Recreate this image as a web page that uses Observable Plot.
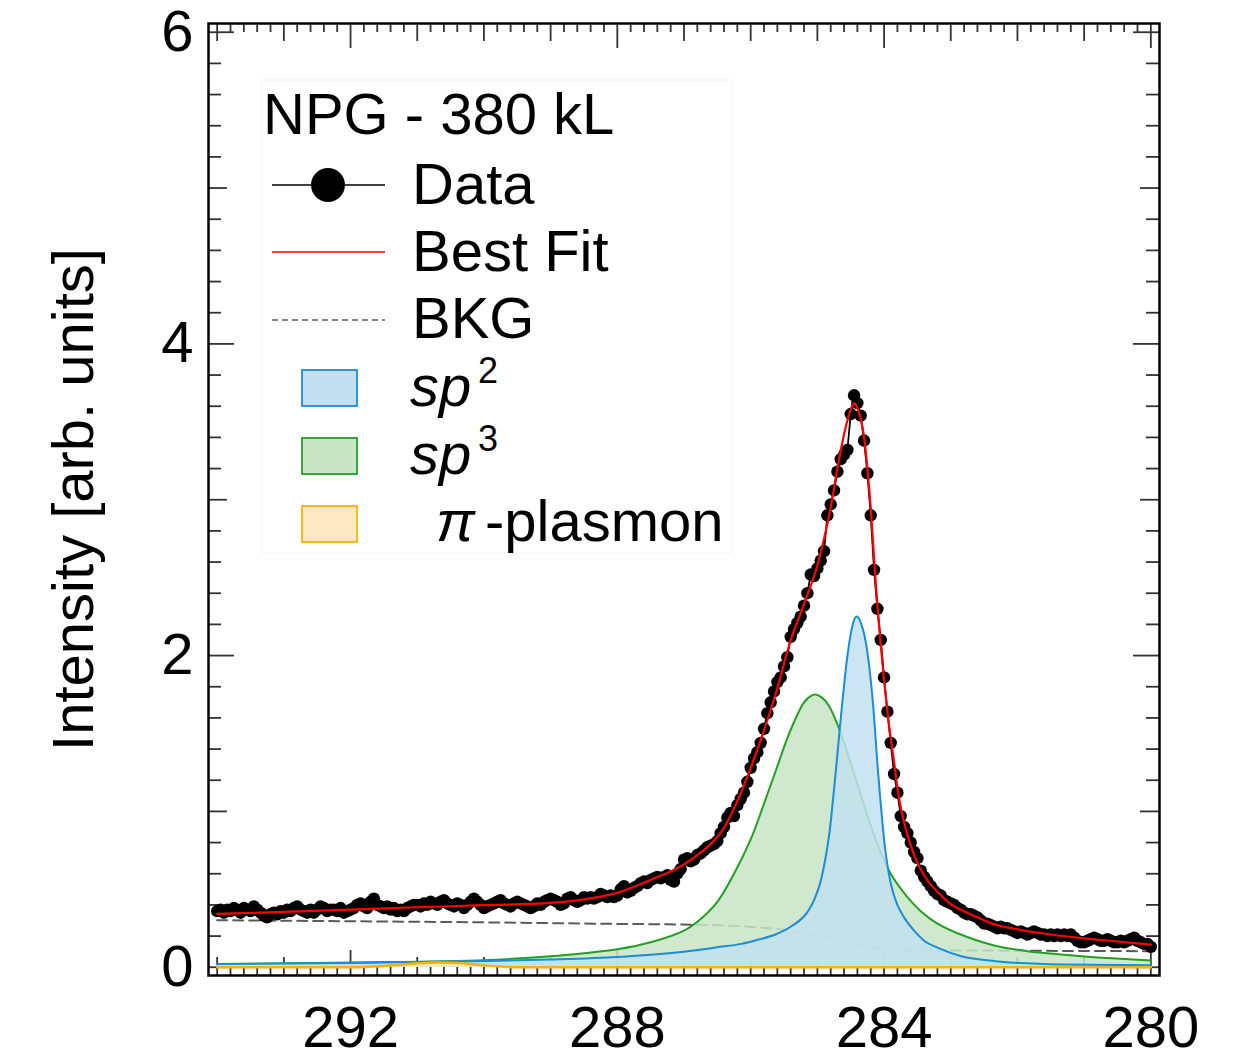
<!DOCTYPE html>
<html>
<head>
<meta charset="utf-8">
<script src="https://cdn.jsdelivr.net/npm/d3@7"></script>
<script src="https://cdn.jsdelivr.net/npm/@observablehq/plot@0.6"></script>
<style>
  html, body { margin: 0; padding: 0; background: white; }
</style>
</head>
<body>
<div id="chart"></div>
<script>
// ---------- data ----------
const FONT = "'Liberation Sans', Arial, Helvetica, sans-serif";

// measured spectrum: binding energy grid 294.00 -> 280.00 eV, step 0.05 eV
const dataStart = 294.0;
const dataStep = 0.05;
const dataIntensity = [
  0.36,0.37,0.35,0.37,0.36,0.38,0.37,0.35,0.38,0.37,
  0.36,0.39,0.37,0.35,0.33,0.32,0.34,0.35,0.34,0.36,
  0.35,0.37,0.36,0.38,0.39,0.37,0.36,0.35,0.37,0.35,
  0.37,0.39,0.38,0.36,0.37,0.37,0.36,0.38,0.35,0.36,
  0.37,0.38,0.40,0.41,0.39,0.38,0.42,0.44,0.40,0.39,
  0.38,0.39,0.37,0.38,0.36,0.37,0.36,0.38,0.39,0.40,
  0.40,0.39,0.41,0.40,0.42,0.41,0.40,0.42,0.43,0.41,
  0.40,0.39,0.41,0.40,0.38,0.40,0.42,0.44,0.42,0.40,
  0.38,0.39,0.40,0.41,0.42,0.43,0.41,0.40,0.39,0.41,
  0.42,0.41,0.40,0.39,0.38,0.39,0.41,0.40,0.42,0.43,
  0.44,0.43,0.42,0.40,0.41,0.44,0.45,0.43,0.42,0.43,
  0.45,0.44,0.45,0.44,0.45,0.47,0.46,0.45,0.46,0.45,
  0.46,0.50,0.52,0.48,0.49,0.51,0.52,0.54,0.55,0.54,
  0.56,0.57,0.58,0.57,0.58,0.59,0.56,0.55,0.60,0.63,
  0.69,0.70,0.68,0.69,0.72,0.73,0.75,0.77,0.78,0.79,
  0.81,0.86,0.90,0.96,0.99,0.97,1.04,1.08,1.12,1.19,
  1.28,1.34,1.38,1.44,1.53,1.63,1.70,1.77,1.83,1.86,
  1.93,1.99,2.12,2.17,2.21,2.25,2.32,2.40,2.52,2.51,
  2.56,2.61,2.67,2.90,2.97,3.06,3.18,3.26,3.29,3.32,
  3.55,3.67,3.62,3.54,3.38,3.17,2.90,2.55,2.30,2.10,
  1.86,1.64,1.44,1.24,1.12,0.97,0.90,0.86,0.80,0.74,
  0.70,0.62,0.58,0.55,0.52,0.49,0.47,0.46,0.43,0.42,
  0.41,0.40,0.38,0.37,0.35,0.34,0.34,0.33,0.32,0.30,
  0.28,0.28,0.27,0.26,0.25,0.26,0.25,0.25,0.24,0.23,
  0.22,0.23,0.22,0.21,0.22,0.23,0.22,0.21,0.21,0.20,
  0.21,0.20,0.21,0.20,0.21,0.20,0.21,0.19,0.17,0.16,
  0.16,0.17,0.18,0.19,0.18,0.17,0.17,0.18,0.17,0.16,
  0.16,0.17,0.16,0.17,0.18,0.19,0.17,0.16,0.15,0.15,
  0.13
];

// best fit
const fitEnergy = [294.0,293.0,292.0,291.0,290.0,289.0,288.5,288.0,287.5,287.0,286.8,286.6,286.4,286.2,286.0,285.8,285.6,285.4,285.2,285.0,284.9,284.8,284.7,284.6,284.5,284.45,284.4,284.35,284.3,284.25,284.2,284.15,284.1,284.05,284.0,283.95,283.9,283.85,283.8,283.7,283.6,283.5,283.4,283.3,283.2,283.0,282.8,282.6,282.4,282.2,282.0,281.5,281.0,280.5,280.0];
const fitIntensity = [0.342,0.355,0.370,0.385,0.398,0.413,0.435,0.477,0.56,0.66,0.72,0.79,0.895,1.066,1.28,1.52,1.79,2.10,2.33,2.58,2.75,2.95,3.20,3.42,3.58,3.62,3.59,3.52,3.40,3.20,2.95,2.62,2.32,2.07,1.84,1.64,1.47,1.32,1.15,0.93,0.78,0.67,0.59,0.53,0.485,0.405,0.36,0.32,0.283,0.26,0.243,0.21,0.185,0.165,0.145];

// sp2 component
const sp2Energy = [294.0,292.0,290.0,289.0,288.0,287.5,287.0,286.5,286.14,285.88,285.63,285.39,285.14,285.04,284.94,284.87,284.81,284.76,284.71,284.64,284.54,284.47,284.41,284.34,284.26,284.16,284.09,284.04,283.99,283.94,283.89,283.8,283.7,283.54,283.4,283.19,282.84,282.33,281.33,280.0];
const sp2Intensity = [0.02,0.028,0.04,0.05,0.066,0.08,0.10,0.128,0.15,0.178,0.21,0.263,0.36,0.44,0.57,0.72,0.895,1.10,1.32,1.64,2.03,2.20,2.25,2.20,2.05,1.66,1.25,1.00,0.78,0.63,0.52,0.40,0.32,0.23,0.17,0.124,0.07,0.039,0.017,0.013];

// sp3 component
const sp3Energy = [294.0,292.0,290.0,289.0,288.5,288.0,287.5,287.0,286.75,286.5,286.25,286.0,285.8,285.6,285.45,285.3,285.2,285.1,285.03,284.93,284.83,284.7,284.5,284.3,284.1,283.9,283.65,283.45,283.2,282.85,282.35,281.85,281.3,280.8,280.0];
const sp3Intensity = [0.02,0.03,0.045,0.07,0.09,0.115,0.16,0.235,0.31,0.42,0.60,0.82,1.05,1.29,1.47,1.62,1.70,1.74,1.75,1.73,1.68,1.56,1.31,1.04,0.79,0.60,0.45,0.36,0.28,0.21,0.14,0.103,0.08,0.063,0.043];

// pi-plasmon component
const plasmonEnergy = [294.0,292.0,291.5,291.0,290.7,290.3,290.0,289.5,280.0];
const plasmonIntensity = [0.0,0.0,0.008,0.025,0.03,0.025,0.012,0.0,0.0];

// background
const bkgEnergy = [294.0,292.0,290.0,288.0,287.0,286.14,285.54,285.24,284.89,284.6,284.39,284.15,283.99,283.5,282.0,280.0];
const bkgIntensity = [0.302,0.295,0.288,0.278,0.274,0.263,0.242,0.225,0.20,0.17,0.146,0.125,0.114,0.11,0.106,0.103];

// axes
const xTickLabels = [292, 288, 284, 280];
const yTickLabels = [0, 2, 4, 6];
const yLabel = "Intensity [arb. units]";
const legendTitle = "NPG - 380 kL";
const legendLabels = ["Data", "Best Fit", "BKG"];

// ---------- build tables ----------
const zip = (xs, ys) => xs.map((e, i) => ({e, v: ys[i]}));
const data = dataIntensity.map((v, i) => ({e: +(dataStart - i * dataStep).toFixed(2), v}));
const fit = zip(fitEnergy, fitIntensity);
const sp2 = zip(sp2Energy, sp2Intensity);
const sp3 = zip(sp3Energy, sp3Intensity);
const plasmon = zip(plasmonEnergy, plasmonIntensity);
const bkg = zip(bkgEnergy, bkgIntensity);

// minor tick grids
const xTicksAll = d3.range(0, 71).map(i => +(280 + i * 0.2).toFixed(1));
const yTicksAll = d3.range(0, 31).map(i => +(i * 0.2).toFixed(1));
const isInt = d => Math.abs(d - Math.round(d)) < 1e-6;
const xMajor = xTicksAll.filter(d => isInt(d) && Math.round(d) % 4 === 0);
const xMed = xTicksAll.filter(d => isInt(d) && Math.round(d) % 4 !== 0);
const xMin = xTicksAll.filter(d => !isInt(d));
const yMajor = yTicksAll.filter(d => isInt(d) && Math.round(d) % 2 === 0);
const yMed = yTicksAll.filter(d => isInt(d) && Math.round(d) % 2 !== 0);
const yMin = yTicksAll.filter(d => !isInt(d));

const W = 1241, H = 1059;
const mL = 208, mR = 82, mT = 23, mB = 84;
const FW = W - mL - mR, FH = H - mT - mB;

const C = {
  blue: "#1a8cd8", blueFill: "#c3e0f0",
  green: "#22a022", greenFill: "#c8e5c6",
  orange: "#ffb000", orangeFill: "#fde8c4",
  red: "#ff0000", bkg: "#5a5a5a", tick: "#333333"
};

const xTickMarks = (ticks, len) => [
  Plot.ruleX(ticks, {x: d => d, insetTop: FH - len, stroke: C.tick, strokeWidth: 1.8}),
  Plot.ruleX(ticks, {x: d => d, insetBottom: FH - len, stroke: C.tick, strokeWidth: 1.8})
];
const yTickMarks = (ticks, len) => [
  Plot.ruleY(ticks, {y: d => d, insetRight: FW - len, stroke: C.tick, strokeWidth: 1.8}),
  Plot.ruleY(ticks, {y: d => d, insetLeft: FW - len, stroke: C.tick, strokeWidth: 1.8})
];

const svg = Plot.plot({
  width: W, height: H,
  marginLeft: mL, marginRight: mR, marginTop: mT, marginBottom: mB,
  x: {domain: [294.13, 279.87]},
  y: {domain: [-0.053, 6.056]},
  style: {fontFamily: FONT, fontSize: "58px", color: "black", background: "white", overflow: "visible"},
  marks: [
    ...xTickMarks(xMin, 9), ...xTickMarks(xMed, 18), ...xTickMarks(xMajor, 25),
    ...yTickMarks(yMin, 13), ...yTickMarks(yMed, 19), ...yTickMarks(yMajor, 26),
    Plot.line(bkg, {x: "e", y: "v", stroke: C.bkg, strokeWidth: 2, strokeDasharray: "10,6", curve: "monotone-x"}),
    Plot.areaY(sp3, {x: "e", y: "v", fill: C.greenFill, fillOpacity: 0.85, curve: "catmull-rom"}),
    Plot.line(sp3, {x: "e", y: "v", stroke: C.green, strokeWidth: 2, curve: "catmull-rom"}),
    Plot.areaY(sp2, {x: "e", y: "v", fill: C.blueFill, fillOpacity: 0.85, curve: "monotone-x"}),
    Plot.line(sp2, {x: "e", y: "v", stroke: C.blue, strokeWidth: 2, curve: "monotone-x"}),
    Plot.areaY(plasmon, {x: "e", y: "v", fill: C.orangeFill, fillOpacity: 0.85, curve: "monotone-x"}),
    Plot.line(plasmon, {x: "e", y: "v", stroke: C.orange, strokeWidth: 2.5, curve: "monotone-x"}),
    Plot.line(data, {x: "e", y: "v", stroke: "black", strokeWidth: 1.8}),
    Plot.dot(data, {x: "e", y: "v", r: 6.2, fill: "black", stroke: "none"}),
    Plot.line(fit, {x: "e", y: "v", stroke: C.red, strokeWidth: 2.2, curve: "monotone-x"}),
    Plot.frame({stroke: "black", strokeWidth: 2.5}),
    Plot.axisX(xTickLabels, {tickSize: 0, tickPadding: 30, fontSize: 58, label: null, tickFormat: d => String(d)}),
    Plot.axisY(yTickLabels, {tickSize: 0, tickPadding: 15, fontSize: 58, label: null, tickFormat: d => String(d)}),
    Plot.text([yLabel], {text: d => d, frameAnchor: "left", dx: -134, rotate: -90, textAnchor: "middle", lineAnchor: "middle", fontSize: 58, fill: "black"})
  ]
});

// ---------- legend (inside the frame, upper left) ----------
const lg = d3.select(svg).append("g")
  .attr("font-family", FONT).attr("font-size", 58).attr("fill", "black").attr("text-anchor", "start");
lg.append("rect").attr("x", 262).attr("y", 80).attr("width", 470).attr("height", 473)
  .attr("fill", "white").attr("fill-opacity", 0.85).attr("stroke", "#f4f4f4").attr("stroke-width", 1);
lg.append("text").attr("x", 263).attr("y", 134).text(legendTitle);
// Data
lg.append("line").attr("x1", 272).attr("x2", 385).attr("y1", 185).attr("y2", 185).attr("stroke", "black").attr("stroke-width", 1.5);
lg.append("circle").attr("cx", 328).attr("cy", 185).attr("r", 17).attr("fill", "black");
lg.append("text").attr("x", 412).attr("y", 204).text(legendLabels[0]);
// Best fit
lg.append("line").attr("x1", 272).attr("x2", 385).attr("y1", 252).attr("y2", 252).attr("stroke", C.red).attr("stroke-width", 1.5);
lg.append("text").attr("x", 412).attr("y", 271).text(legendLabels[1]);
// BKG
lg.append("line").attr("x1", 272).attr("x2", 385).attr("y1", 320).attr("y2", 320).attr("stroke", C.bkg).attr("stroke-width", 1.5).attr("stroke-dasharray", "6,4");
lg.append("text").attr("x", 412).attr("y", 338).text(legendLabels[2]);
// swatches
const sw = [
  {y: 370, fill: C.blueFill, stroke: C.blue},
  {y: 438, fill: C.greenFill, stroke: C.green},
  {y: 506, fill: C.orangeFill, stroke: C.orange}
];
sw.forEach(s => lg.append("rect").attr("x", 302).attr("y", s.y).attr("width", 55).attr("height", 36)
  .attr("fill", s.fill).attr("stroke", s.stroke).attr("stroke-width", 1.8));
// sp2
lg.append("text").attr("x", 410).attr("y", 406).attr("font-style", "italic").text("sp");
lg.append("text").attr("x", 478).attr("y", 383).attr("font-size", 36).text("2");
// sp3
lg.append("text").attr("x", 410).attr("y", 474).attr("font-style", "italic").text("sp");
lg.append("text").attr("x", 478).attr("y", 451).attr("font-size", 36).text("3");
// pi-plasmon
lg.append("text").attr("x", 436).attr("y", 541).attr("font-style", "italic").text("π");
lg.append("text").attr("x", 485).attr("y", 541).text("-plasmon");

document.getElementById("chart").appendChild(svg);
</script>
</body>
</html>
